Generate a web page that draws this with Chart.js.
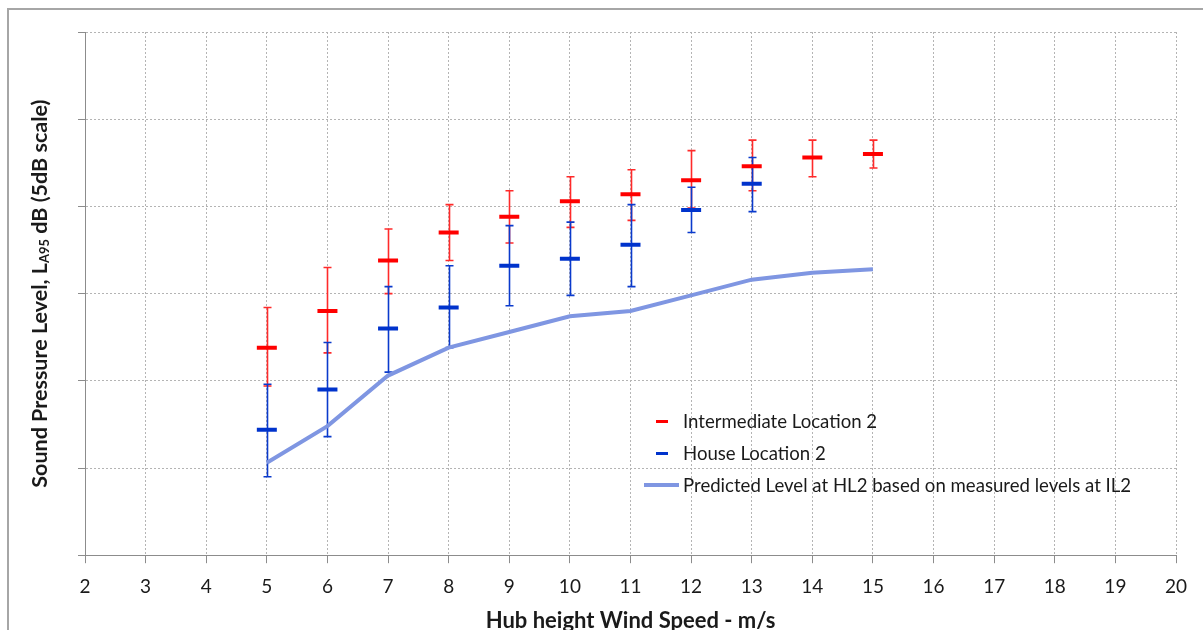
<!DOCTYPE html>
<html>
<head>
<meta charset="utf-8">
<script src="https://cdn.jsdelivr.net/npm/chart.js@4/dist/chart.umd.min.js"></script>
<style>
  html, body { margin: 0; padding: 0; background: #fff; overflow: hidden; }
  #frame { position: absolute; left: 7px; top: 8px; width: 1196px; height: 622px;
           border-left: 2px solid #a6a6a6; border-top: 2px solid #a6a6a6; box-sizing: border-box; }
  #chart { position: absolute; left: 0; top: 0; }
  #legend { position: absolute; left: 640px; top: 405px; font-family: Lato, sans-serif;
            font-size: 18.6px; color: #1a1a1a; }
  .row { height: 32px; display: flex; align-items: center; }
  .sym { width: 43px; height: 32px; position: relative; }
  .sym span { position: absolute; top: 50%; }
</style>
</head>
<body>
<div id="frame"></div>
<canvas id="chart" width="1203" height="630"></canvas>
<div id="legend"></div>

<script>
/* Data (y values in dB, axis is unlabelled 5 dB steps) */
const ilSpeed = [5, 6, 7, 8, 9, 10, 11, 12, 13, 14, 15];
const ilMean  = [31.9, 34.0, 36.9, 38.5, 39.4, 40.3, 40.7, 41.5, 42.3, 42.8, 43.0];
const ilHigh  = [34.2, 36.5, 38.7, 40.1, 40.9, 41.7, 42.1, 43.2, 43.8, 43.8, 43.8];
const ilLow   = [29.7, 31.6, 35.0, 36.9, 37.9, 38.8, 39.2, 39.9, 40.9, 41.7, 42.2];

const hlSpeed = [5, 6, 7, 8, 9, 10, 11, 12, 13];
const hlMean  = [27.2, 29.5, 33.0, 34.2, 36.6, 37.0, 37.8, 39.8, 41.3];
const hlHigh  = [29.8, 32.2, 35.4, 36.6, 38.9, 39.1, 40.1, 41.1, 42.8];
const hlLow   = [24.5, 26.8, 30.5, 31.9, 34.3, 34.9, 35.4, 38.5, 39.7];

const predSpeed = [5, 6, 7, 8, 9, 10, 11, 12, 13, 14, 15];
const predicted = [25.3, 27.4, 30.3, 31.9, 32.8, 33.7, 34.0, 34.9, 35.8, 36.2, 36.4];

const xTicks = [2, 20];       // min / max wind speed
const yTicks = [20, 50];      // min / max level, 5 dB steps

const FONT = "Lato, sans-serif";

function pts(xs, ys) {
  return xs.map((x, i) => ({ x: x, y: ys[i] }));
}

/* Error bars drawn through the chart scales */
const errorBars = {
  id: "errorBars",
  beforeDatasetsDraw(chart) {
    const { ctx, scales: { x, y } } = chart;
    chart.data.datasets.forEach(ds => {
      if (!ds.errLow) return;
      ctx.save();
      ctx.strokeStyle = ds.errColor;
      ctx.lineWidth = 1.6;
      ds.data.forEach((p, j) => {
        const px = Math.round(x.getPixelForValue(p.x)) + 0.5;
        const top = y.getPixelForValue(ds.errHigh[j]);
        const bot = y.getPixelForValue(ds.errLow[j]);
        ctx.beginPath();
        ctx.moveTo(px, top); ctx.lineTo(px, bot);
        ctx.moveTo(px - 4, top); ctx.lineTo(px + 4, top);
        ctx.moveTo(px - 4, bot); ctx.lineTo(px + 4, bot);
        ctx.stroke();
      });
      ctx.restore();
    });
  }
};

/* Y title with subscript */
const yTitle = {
  id: "yTitle",
  afterDraw(chart) {
    const ctx = chart.ctx;
    const parts = [
      ["Sound Pressure Level, L", "bold 21.5px " + FONT, 0],
      ["A95", "bold 13px " + FONT, 5],
      [" dB (5dB scale)", "bold 21.5px " + FONT, 0]
    ];
    let total = 0;
    parts.forEach(p => { ctx.font = p[1]; total += ctx.measureText(p[0]).width; });
    const area = chart.chartArea;
    ctx.save();
    ctx.translate(40, (area.top + area.bottom) / 2);
    ctx.rotate(-Math.PI / 2);
    ctx.fillStyle = "#1a1a1a";
    ctx.textBaseline = "middle";
    let cx = -total / 2;
    parts.forEach(p => {
      ctx.font = p[1];
      ctx.fillText(p[0], cx, p[2]);
      cx += ctx.measureText(p[0]).width;
    });
    ctx.restore();
  }
};

const ctx = document.getElementById("chart").getContext("2d");

const chart = new Chart(ctx, {
  type: "scatter",
  data: {
    datasets: [
      {
        label: "Intermediate Location 2",
        data: pts(ilSpeed, ilMean),
        errHigh: ilHigh,
        errLow: ilLow,
        errColor: "#ff2a2a",
        pointStyle: "line",
        radius: 10,
        borderWidth: 4,
        borderColor: "#ff0000",
        backgroundColor: "#ff0000",
        order: 1
      },
      {
        label: "House Location 2",
        data: pts(hlSpeed, hlMean),
        errHigh: hlHigh,
        errLow: hlLow,
        errColor: "#0a3acc",
        pointStyle: "line",
        radius: 10,
        borderWidth: 4,
        borderColor: "#0033cc",
        backgroundColor: "#0033cc",
        order: 0
      },
      {
        label: "Predicted Level at HL2 based on measured levels at IL2",
        data: pts(predSpeed, predicted),
        showLine: true,
        pointRadius: 0,
        borderWidth: 4,
        borderColor: "#7f96e2",
        backgroundColor: "#7f96e2",
        tension: 0,
        order: 2
      }
    ]
  },
  options: {
    responsive: false,
    animation: false,
    layout: { padding: { left: 78, right: 27, top: 32, bottom: -2 } },
    plugins: {
      legend: { display: false },
      tooltip: { enabled: false }
    },
    scales: {
      x: {
        type: "linear",
        min: xTicks[0],
        max: xTicks[1],
        ticks: { stepSize: 1, color: "#1a1a1a", padding: 12, font: { family: FONT, size: 19 } },
        grid: { color: "#b4b4b4", tickLength: 8, tickColor: "#8c8c8c", tickBorderDash: [] },
        border: { display: true, color: "#8c8c8c", width: 1, dash: [2, 2] },
        title: {
          display: true,
          text: "Hub height Wind Speed - m/s",
          color: "#1a1a1a",
          font: { family: FONT, size: 22, weight: "bold", lineHeight: 1 },
          padding: { top: 0, bottom: 0 }
        }
      },
      y: {
        min: yTicks[0],
        max: yTicks[1],
        ticks: { stepSize: 5, display: false },
        grid: { color: "#b4b4b4", tickLength: 7, tickColor: "#8c8c8c", tickBorderDash: [] },
        border: { display: true, color: "#8c8c8c", width: 1, dash: [2, 2] }
      }
    }
  },
  plugins: [errorBars, yTitle]
});

/* HTML legend */
const legend = document.getElementById("legend");
chart.data.datasets.forEach(ds => {
  const row = document.createElement("div");
  row.className = "row";
  const sym = document.createElement("div");
  sym.className = "sym";
  const mark = document.createElement("span");
  if (ds.showLine) {
    mark.style.cssText = "left:4px;width:35px;height:4px;margin-top:-2px;background:" + ds.borderColor;
  } else {
    mark.style.cssText = "left:16px;width:12px;height:3px;margin-top:-1px;background:" + ds.borderColor;
  }
  sym.appendChild(mark);
  const txt = document.createElement("div");
  txt.textContent = ds.label;
  row.appendChild(sym);
  row.appendChild(txt);
  legend.appendChild(row);
});
</script>
</body>
</html>
